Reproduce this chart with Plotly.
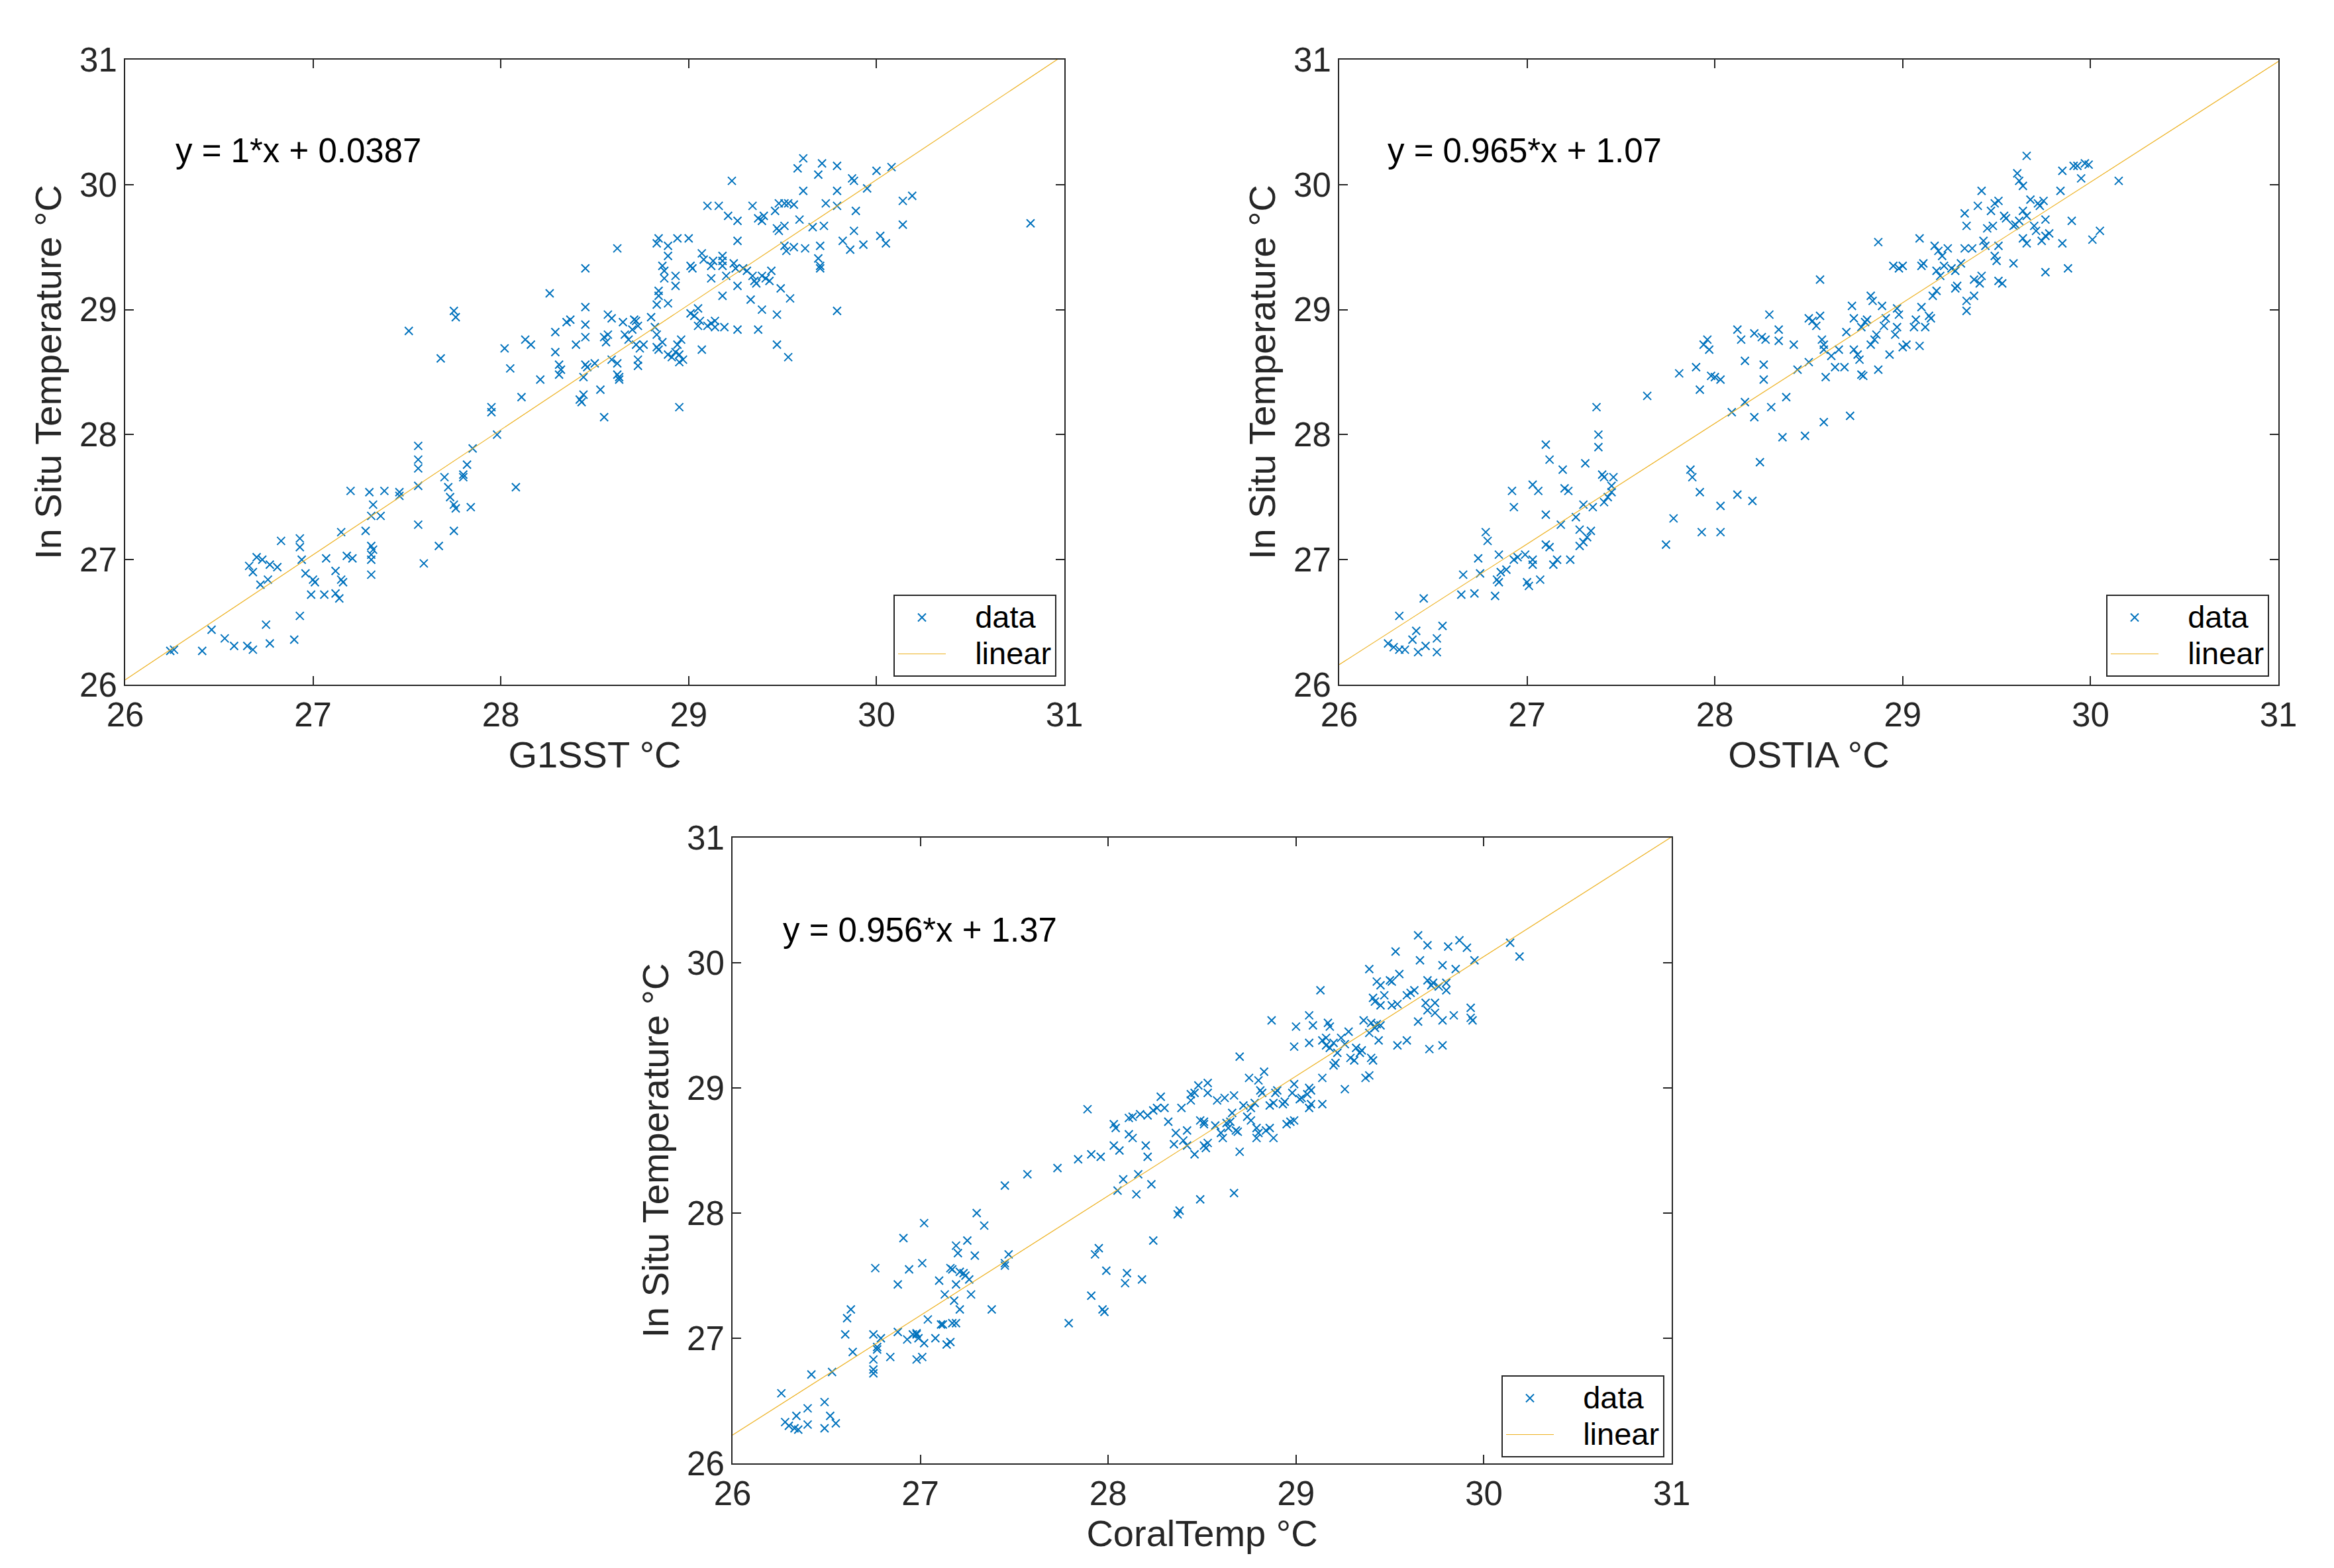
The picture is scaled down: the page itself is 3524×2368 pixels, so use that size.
import plotly.graph_objects as go

# ---------------- data ----------------
g1sst_pts = [
    (26.24, 26.27), (26.26, 26.28), (26.41, 26.27), (26.46, 26.44), (26.53, 26.37), (26.58, 26.31),
    (26.65, 26.31), (26.68, 26.28), (26.77, 26.33), (26.75, 26.48), (26.90, 26.36), (26.93, 26.55),
    (26.66, 26.95), (26.68, 26.90), (26.70, 27.02), (26.73, 27.00), (26.77, 26.96), (26.81, 26.94),
    (26.72, 26.80), (26.76, 26.84), (26.83, 27.15), (26.93, 27.17), (26.93, 27.10), (26.94, 27.00),
    (26.96, 26.89), (27.00, 26.84), (27.01, 26.82), (26.99, 26.72), (27.06, 26.72), (27.07, 27.01),
    (27.12, 26.91), (27.12, 26.73), (27.14, 26.69), (27.15, 26.84), (27.16, 26.82), (27.15, 27.22),
    (27.18, 27.03), (27.21, 27.01), (27.20, 27.55), (27.28, 27.23), (27.30, 27.54), (27.31, 27.35),
    (27.32, 27.44), (27.31, 27.11), (27.32, 27.08), (27.31, 27.04), (27.31, 27.00), (27.31, 26.88),
    (27.36, 27.35), (27.38, 27.55), (27.46, 27.54), (27.46, 27.51), (27.51, 28.83), (27.56, 27.91),
    (27.56, 27.80), (27.56, 27.73), (27.56, 27.59), (27.56, 27.28), (27.59, 26.97), (27.68, 28.61),
    (27.67, 27.11), (27.70, 27.66), (27.72, 27.58), (27.73, 27.50), (27.75, 28.99), (27.76, 28.94),
    (27.75, 27.23), (27.75, 27.44), (27.76, 27.41), (27.80, 27.68), (27.80, 27.66), (27.82, 27.76),
    (27.84, 27.42), (27.85, 27.89), (27.95, 28.22), (27.95, 28.18), (27.98, 28.00), (28.02, 28.69),
    (28.05, 28.53), (28.08, 27.58), (28.11, 28.30), (28.13, 28.76), (28.16, 28.72), (28.21, 28.44),
    (28.26, 29.13), (28.29, 28.66), (28.29, 28.82), (28.31, 28.56), (28.32, 28.52), (28.31, 28.48),
    (28.35, 28.90), (28.37, 28.92), (28.40, 28.72), (28.42, 28.28), (28.44, 28.32), (28.43, 28.26),
    (28.44, 28.46), (28.45, 29.33), (28.45, 29.02), (28.45, 28.88), (28.45, 28.78), (28.45, 28.56),
    (28.46, 28.54), (28.50, 28.57), (28.53, 28.36), (28.55, 28.14), (28.55, 28.78), (28.56, 28.74),
    (28.57, 28.80), (28.57, 28.96), (28.59, 28.93), (28.59, 28.60), (28.62, 28.57), (28.62, 29.49),
    (28.62, 28.48), (28.63, 28.46), (28.63, 28.44), (28.65, 28.90), (28.66, 28.80), (28.68, 28.76),
    (28.70, 28.84), (28.71, 28.92), (28.72, 28.91), (28.73, 28.87), (28.72, 28.72), (28.74, 28.69),
    (28.73, 28.60), (28.73, 28.55), (28.76, 28.72), (28.80, 28.94), (28.82, 28.86), (28.83, 28.80),
    (28.84, 29.57), (28.83, 29.53), (28.84, 29.15), (28.84, 29.11), (28.83, 29.04), (28.83, 28.70),
    (28.84, 28.68), (28.86, 28.74), (28.86, 29.35), (28.87, 29.31), (28.87, 29.25), (28.89, 29.51),
    (28.89, 29.43), (28.89, 29.05), (28.89, 28.64), (28.91, 28.62), (28.93, 28.66), (28.95, 28.64),
    (28.94, 28.72), (28.93, 29.27), (28.93, 29.19), (28.94, 29.57), (28.95, 28.22), (28.96, 28.76),
    (28.97, 28.60), (28.95, 28.58), (29.00, 29.57), (29.01, 29.35), (29.02, 29.33), (29.01, 28.97),
    (29.03, 28.95), (29.05, 29.01), (29.05, 28.87), (29.06, 28.91), (29.07, 29.45), (29.07, 28.68),
    (29.08, 29.40), (29.10, 29.83), (29.10, 28.87), (29.12, 28.89), (29.12, 29.35), (29.13, 29.39),
    (29.12, 29.25), (29.14, 28.91), (29.14, 28.86), (29.16, 29.83), (29.18, 29.39), (29.18, 29.35),
    (29.18, 29.43), (29.18, 29.11), (29.19, 28.86), (29.20, 29.27), (29.21, 29.75), (29.23, 30.03),
    (29.24, 29.37), (29.25, 29.33), (29.26, 29.19), (29.26, 29.55), (29.26, 29.71), (29.26, 28.84),
    (29.29, 29.33), (29.31, 29.31), (29.33, 29.08), (29.34, 29.83), (29.34, 29.27), (29.35, 29.23),
    (29.36, 29.21), (29.37, 29.73), (29.39, 29.71), (29.40, 29.75), (29.37, 28.84), (29.39, 29.00),
    (29.39, 29.27), (29.41, 29.25), (29.43, 29.23), (29.44, 29.31), (29.46, 29.79), (29.47, 29.65),
    (29.48, 29.63), (29.47, 28.96), (29.47, 28.72), (29.49, 29.17), (29.48, 29.85), (29.51, 29.85),
    (29.51, 29.67), (29.51, 29.51), (29.52, 29.47), (29.53, 29.85), (29.53, 28.62), (29.54, 29.09),
    (29.56, 29.50), (29.56, 29.84), (29.58, 30.13), (29.59, 29.72), (29.61, 30.21), (29.61, 29.95),
    (29.62, 29.49), (29.66, 29.66), (29.69, 30.08), (29.70, 29.51), (29.69, 29.41), (29.70, 29.35),
    (29.70, 29.33), (29.71, 30.17), (29.72, 29.67), (29.73, 29.85), (29.79, 30.15), (29.79, 29.95),
    (29.79, 29.83), (29.79, 28.99), (29.82, 29.55), (29.86, 29.48), (29.87, 30.05), (29.88, 30.03),
    (29.88, 29.63), (29.89, 29.79), (29.93, 29.52), (29.95, 29.97), (30.00, 30.11), (30.02, 29.59),
    (30.05, 29.53), (30.08, 30.14), (30.14, 29.87), (30.14, 29.68), (30.19, 29.91), (30.82, 29.69),
]

ostia_pts = [
    (26.26, 26.33), (26.29, 26.30), (26.32, 26.28), (26.35, 26.28), (26.32, 26.55), (26.39, 26.36),
    (26.41, 26.43), (26.42, 26.26), (26.45, 26.69), (26.46, 26.31), (26.52, 26.37), (26.52, 26.26),
    (26.55, 26.47), (26.65, 26.72), (26.66, 26.88), (26.72, 26.73), (26.74, 27.01), (26.75, 26.89),
    (26.78, 27.22), (26.79, 27.15), (26.83, 26.71), (26.84, 26.84), (26.85, 26.82), (26.85, 27.04),
    (26.86, 26.90), (26.89, 26.92), (26.92, 27.55), (26.93, 27.42), (26.93, 27.00), (26.95, 27.02),
    (26.99, 27.04), (27.00, 26.82), (27.01, 26.79), (27.03, 27.60), (27.03, 27.00), (27.03, 26.96),
    (27.06, 27.55), (27.07, 26.84), (27.10, 27.92), (27.12, 27.80), (27.10, 27.36), (27.10, 27.12),
    (27.12, 27.10), (27.14, 26.96), (27.16, 27.00), (27.18, 27.28), (27.19, 27.72), (27.20, 27.57),
    (27.22, 27.55), (27.23, 27.00), (27.26, 27.34), (27.28, 27.24), (27.28, 27.11), (27.30, 27.14),
    (27.30, 27.44), (27.31, 27.77), (27.32, 27.18), (27.34, 27.23), (27.35, 27.42), (27.37, 28.22),
    (27.38, 28.00), (27.38, 27.90), (27.40, 27.68), (27.41, 27.66), (27.41, 27.46), (27.43, 27.50),
    (27.45, 27.54), (27.45, 27.59), (27.46, 27.66), (27.64, 28.31), (27.74, 27.12), (27.78, 27.33),
    (27.81, 28.49), (27.87, 27.72), (27.88, 27.66), (27.90, 28.54), (27.92, 28.36), (27.92, 27.54),
    (27.93, 27.22), (27.94, 28.72), (27.96, 28.76), (27.97, 28.68), (27.98, 28.47), (28.00, 28.46),
    (28.03, 28.44), (28.03, 27.43), (28.03, 27.22), (28.09, 28.18), (28.12, 28.84), (28.14, 28.76),
    (28.12, 27.52), (28.16, 28.59), (28.16, 28.26), (28.20, 27.47), (28.21, 28.14), (28.21, 28.81),
    (28.24, 27.78), (28.25, 28.78), (28.26, 28.56), (28.26, 28.44), (28.27, 28.76), (28.29, 28.96),
    (28.30, 28.22), (28.34, 28.84), (28.34, 28.75), (28.36, 27.98), (28.38, 28.30), (28.42, 28.72),
    (28.44, 28.52), (28.48, 27.99), (28.50, 28.93), (28.52, 28.91), (28.54, 28.87), (28.50, 28.58),
    (28.56, 28.95), (28.56, 29.24), (28.57, 28.76), (28.58, 28.72), (28.58, 28.68), (28.58, 28.10),
    (28.59, 28.46), (28.62, 28.63), (28.64, 28.54), (28.66, 28.68), (28.69, 28.54), (28.70, 28.82),
    (28.72, 28.15), (28.73, 29.03), (28.74, 28.93), (28.74, 28.68), (28.76, 28.64), (28.77, 28.60),
    (28.78, 28.48), (28.79, 28.47), (28.78, 28.86), (28.80, 28.90), (28.81, 28.92), (28.83, 29.11),
    (28.84, 29.07), (28.83, 28.72), (28.85, 28.76), (28.86, 28.80), (28.87, 29.54), (28.87, 28.52),
    (28.89, 29.03), (28.90, 28.87), (28.91, 28.93), (28.93, 28.64), (28.95, 29.35), (28.96, 28.80),
    (28.97, 29.01), (28.97, 28.86), (28.98, 28.96), (28.98, 29.33), (29.00, 29.35), (29.00, 28.70),
    (29.02, 28.72), (29.06, 28.86), (29.07, 28.92), (29.09, 29.57), (29.09, 28.71), (29.10, 29.02),
    (29.10, 29.35), (29.11, 29.37), (29.12, 28.86), (29.14, 28.95), (29.15, 28.93), (29.16, 29.11),
    (29.18, 29.15), (29.17, 29.51), (29.19, 29.47), (29.21, 29.43), (29.18, 29.31), (29.20, 29.27),
    (29.22, 29.35), (29.24, 29.49), (29.26, 29.33), (29.28, 29.31), (29.28, 29.17), (29.29, 29.19),
    (29.31, 29.37), (29.33, 29.77), (29.34, 29.67), (29.33, 29.49), (29.34, 29.07), (29.34, 28.99),
    (29.37, 29.49), (29.38, 29.24), (29.38, 29.11), (29.40, 29.83), (29.41, 29.21), (29.42, 29.27),
    (29.42, 29.95), (29.43, 29.55), (29.44, 29.51), (29.45, 29.65), (29.47, 29.79), (29.49, 29.43),
    (29.48, 29.67), (29.49, 29.85), (29.51, 29.87), (29.51, 29.51), (29.50, 29.39), (29.51, 29.23),
    (29.53, 29.21), (29.54, 29.75), (29.55, 29.73), (29.59, 29.37), (29.59, 29.67), (29.60, 29.68),
    (29.62, 29.71), (29.61, 30.09), (29.62, 30.03), (29.64, 29.99), (29.64, 29.57), (29.66, 29.53),
    (29.64, 29.79), (29.66, 29.75), (29.66, 30.23), (29.68, 29.88), (29.70, 29.67), (29.71, 29.63),
    (29.72, 29.85), (29.73, 29.83), (29.75, 29.87), (29.74, 29.55), (29.76, 29.72), (29.76, 29.59),
    (29.76, 29.30), (29.78, 29.61), (29.84, 29.95), (29.85, 29.53), (29.85, 30.11), (29.88, 29.33),
    (29.90, 29.71), (29.91, 30.15), (29.93, 30.15), (29.95, 30.05), (29.97, 30.17), (29.99, 30.16),
    (30.01, 29.56), (30.05, 29.63), (30.15, 30.03),
]

coraltemp_pts = [
    (26.26, 26.56), (26.28, 26.33), (26.30, 26.30), (26.33, 26.28), (26.34, 26.38), (26.35, 26.27),
    (26.40, 26.44), (26.40, 26.31), (26.42, 26.71), (26.49, 26.49), (26.49, 26.28), (26.52, 26.38),
    (26.53, 26.73), (26.55, 26.32), (26.60, 27.03), (26.61, 27.16), (26.63, 27.23), (26.64, 26.89),
    (26.75, 26.72), (26.75, 26.75), (26.75, 26.83), (26.75, 27.03), (26.76, 27.56), (26.77, 26.93),
    (26.77, 26.91), (26.79, 27.00), (26.84, 26.85), (26.88, 27.05), (26.88, 27.43), (26.91, 27.80),
    (26.93, 26.99), (26.94, 27.55), (26.96, 27.03), (26.98, 27.04), (26.98, 27.03), (26.99, 27.00),
    (26.98, 26.83), (27.01, 26.85), (27.01, 27.60), (27.02, 26.96), (27.02, 27.92), (27.04, 27.15),
    (27.08, 27.00), (27.10, 27.46), (27.11, 27.11), (27.12, 27.11), (27.13, 27.35), (27.14, 26.95),
    (27.16, 26.97), (27.16, 27.56), (27.17, 27.55), (27.17, 27.12), (27.18, 27.30), (27.19, 27.74),
    (27.20, 27.68), (27.19, 27.43), (27.19, 27.12), (27.21, 27.23), (27.21, 27.53), (27.23, 27.52),
    (27.24, 27.50), (27.25, 27.78), (27.26, 27.47), (27.27, 27.35), (27.29, 27.66), (27.30, 28.00),
    (27.34, 27.90), (27.38, 27.23), (27.45, 28.22), (27.45, 27.60), (27.45, 27.58), (27.47, 27.67),
    (27.57, 28.31), (27.73, 28.36), (27.79, 27.12), (27.84, 28.43), (27.89, 28.83), (27.91, 28.47),
    (27.91, 27.34), (27.93, 27.67), (27.95, 27.72), (27.96, 28.45), (27.97, 27.23), (27.98, 27.21),
    (27.99, 27.54), (28.03, 28.71), (28.04, 28.68), (28.03, 28.54), (28.05, 28.18), (28.06, 28.50),
    (28.08, 28.27), (28.09, 27.44), (28.10, 27.52), (28.11, 28.76), (28.13, 28.77), (28.11, 28.63),
    (28.13, 28.60), (28.15, 28.15), (28.16, 28.31), (28.17, 28.79), (28.18, 27.47), (28.20, 28.54),
    (28.21, 28.45), (28.23, 28.23), (28.21, 28.78), (28.24, 28.82), (28.24, 27.78), (28.26, 28.84),
    (28.28, 28.93), (28.30, 28.84), (28.32, 28.73), (28.35, 28.55), (28.36, 28.64), (28.37, 27.99),
    (28.38, 28.02), (28.39, 28.84), (28.40, 28.58), (28.42, 28.54), (28.42, 28.66), (28.44, 28.90),
    (28.44, 28.95), (28.46, 28.96), (28.46, 28.47), (28.48, 29.02), (28.49, 28.11), (28.49, 28.74),
    (28.51, 28.73), (28.51, 28.71), (28.51, 28.54), (28.52, 28.52), (28.53, 28.56), (28.53, 29.04),
    (28.53, 28.96), (28.57, 28.70), (28.58, 28.90), (28.60, 28.64), (28.61, 28.60), (28.62, 28.92),
    (28.63, 28.72), (28.65, 28.73), (28.64, 28.68), (28.67, 28.16), (28.67, 28.94), (28.66, 28.80),
    (28.68, 28.66), (28.69, 28.65), (28.70, 29.25), (28.70, 28.49), (28.72, 28.86), (28.74, 28.77),
    (28.75, 29.08), (28.76, 28.74), (28.76, 28.84), (28.78, 28.88), (28.79, 28.60), (28.80, 28.64),
    (28.79, 28.68), (28.80, 29.06), (28.81, 28.98), (28.82, 28.96), (28.83, 29.13), (28.84, 28.66),
    (28.86, 28.68), (28.88, 28.60), (28.86, 28.86), (28.88, 28.88), (28.87, 29.54), (28.89, 28.96),
    (28.90, 28.98), (28.93, 28.87), (28.94, 28.89), (28.95, 28.71), (28.97, 28.73), (28.99, 28.74),
    (28.98, 28.96), (28.99, 29.03), (28.99, 29.33), (29.00, 29.49), (29.02, 28.91), (29.03, 28.92),
    (29.06, 28.95), (29.07, 29.00), (29.08, 28.98), (29.07, 28.84), (29.08, 28.87), (29.07, 29.36),
    (29.09, 29.50), (29.07, 29.58), (29.13, 29.78), (29.14, 29.08), (29.14, 28.87), (29.14, 29.38),
    (29.16, 29.40), (29.16, 29.34), (29.18, 29.32), (29.20, 29.36), (29.17, 29.52), (29.18, 29.49),
    (29.20, 29.18), (29.21, 29.20), (29.22, 29.28), (29.24, 29.40), (29.26, 29.35), (29.26, 28.99),
    (29.28, 29.45), (29.29, 29.24), (29.31, 29.22), (29.32, 29.32), (29.34, 29.28), (29.35, 29.30),
    (29.36, 29.54), (29.37, 29.08), (29.39, 29.10), (29.39, 29.95), (29.39, 29.44), (29.40, 29.52),
    (29.42, 29.48), (29.41, 29.72), (29.42, 29.69), (29.40, 29.24), (29.41, 29.22), (29.43, 29.51),
    (29.44, 29.38), (29.45, 29.50), (29.43, 29.85), (29.45, 29.82), (29.45, 29.66), (29.47, 29.74),
    (29.50, 29.86), (29.51, 29.85), (29.51, 29.66), (29.54, 29.67), (29.53, 30.09), (29.54, 29.34),
    (29.55, 29.91), (29.59, 29.74), (29.61, 29.76), (29.63, 29.78), (29.59, 29.38), (29.65, 30.22),
    (29.65, 29.53), (29.66, 30.02), (29.69, 29.68), (29.70, 29.62), (29.70, 29.86), (29.72, 29.82),
    (29.73, 29.84), (29.70, 30.14), (29.71, 29.31), (29.74, 29.68), (29.74, 29.60), (29.76, 29.81),
    (29.78, 29.98), (29.78, 29.54), (29.78, 29.34), (29.80, 29.84), (29.80, 29.78), (29.81, 30.13),
    (29.84, 29.58), (29.85, 29.95), (29.87, 30.18), (29.91, 30.12), (29.93, 29.64), (29.93, 29.56),
    (29.94, 29.54), (29.95, 30.02), (30.14, 30.16), (30.19, 30.05),
]

fit_slopes = [1.0, 0.965, 0.956]
fit_intercepts = [0.0387, 1.07, 1.37]
fit_x_range = [26, 31]
equation_labels = ["y = 1*x + 0.0387", "y = 0.965*x + 1.07", "y = 0.956*x + 1.37"]
x_titles = ["G1SST °C", "OSTIA °C", "CoralTemp °C"]
y_title = "In Situ Temperature °C"
tick_values = [26, 27, 28, 29, 30, 31]
legend_names = ["data", "linear"]

# ---------------- styling / layout ----------------
W, H = 3524, 2368
FONT = "Liberation Sans, Arial, Helvetica, sans-serif"
AX_COLOR = "#262626"
DATA_COLOR = "#0072BD"
FIT_COLOR = "#EDB120"


def legend_label(name):
    # padded, slightly larger label text inside a compact legend row
    return '<span style="font-size:47px">\u00a0\u00a0\u00a0' + name + '</span>'


# plot-area boxes in pixels: (left, right, top, bottom)
boxes = [(181, 1599, 82, 1026), (2014, 3432, 82, 1026), (1098, 2516, 1257, 2202)]
legend_anchor = [(1587, 1014), (3418, 1014), (2505, 2193)]
eq_pos = [(26.26, 30.27), (26.25, 30.27), (26.26, 30.26)]

panels = [g1sst_pts, ostia_pts, coraltemp_pts]
legend_ids = ["legend", "legend2", "legend3"]

fig = go.Figure()
layout_updates = {}
annotations = []

for i, pts in enumerate(panels):
    sfx = "" if i == 0 else str(i + 1)
    xs = [p[0] for p in pts]
    ys = [p[1] for p in pts]
    fig.add_trace(go.Scatter(
        x=xs, y=ys, mode="markers", name=legend_label(legend_names[0]),
        xaxis="x" + sfx, yaxis="y" + sfx, legend=legend_ids[i],
        marker=dict(symbol="x-thin", size=12, color=DATA_COLOR,
                    line=dict(color=DATA_COLOR, width=2)),
    ))
    fy = [fit_slopes[i] * v + fit_intercepts[i] for v in fit_x_range]
    fig.add_trace(go.Scatter(
        x=fit_x_range, y=fy, mode="lines", name=legend_label(legend_names[1]),
        xaxis="x" + sfx, yaxis="y" + sfx, legend=legend_ids[i],
        line=dict(color=FIT_COLOR, width=1.2),
    ))

    l, r, t, b = boxes[i]
    common = dict(
        range=[26, 31], tickvals=tick_values, ticks="inside", ticklen=13, tickwidth=2,
        tickcolor=AX_COLOR, showline=True, linecolor=AX_COLOR, linewidth=2,
        mirror="allticks", showgrid=False, zeroline=False, automargin=False,
        tickfont=dict(family=FONT, size=51, color=AX_COLOR),
    )
    layout_updates["xaxis" + sfx] = dict(
        common, domain=[l / W, r / W], anchor="y" + sfx,
        title=dict(text=x_titles[i], font=dict(family=FONT, size=56, color=AX_COLOR), standoff=12),
    )
    layout_updates["yaxis" + sfx] = dict(
        common, domain=[1 - b / H, 1 - t / H], anchor="x" + sfx,
        title=dict(text=y_title, font=dict(family=FONT, size=56, color=AX_COLOR), standoff=9),
    )
    lx, ly = legend_anchor[i]
    layout_updates[legend_ids[i]] = dict(
        x=lx / W, y=1 - ly / H, xanchor="right", yanchor="bottom",
        bgcolor="white", bordercolor=AX_COLOR, borderwidth=2,
        font=dict(family=FONT, size=40, color="#000000"),
        itemwidth=72, tracegroupgap=0,
    )
    annotations.append(dict(
        x=eq_pos[i][0], y=eq_pos[i][1], xref="x" + sfx, yref="y" + sfx,
        text=equation_labels[i], showarrow=False, xanchor="left", yanchor="middle",
        font=dict(family=FONT, size=51, color="#000000"),
    ))

fig.update_layout(
    width=W, height=H, paper_bgcolor="white", plot_bgcolor="white",
    margin=dict(l=0, r=0, t=0, b=0, autoexpand=False), showlegend=True,
    annotations=annotations, **layout_updates,
)

fig.write_html("out.html")
